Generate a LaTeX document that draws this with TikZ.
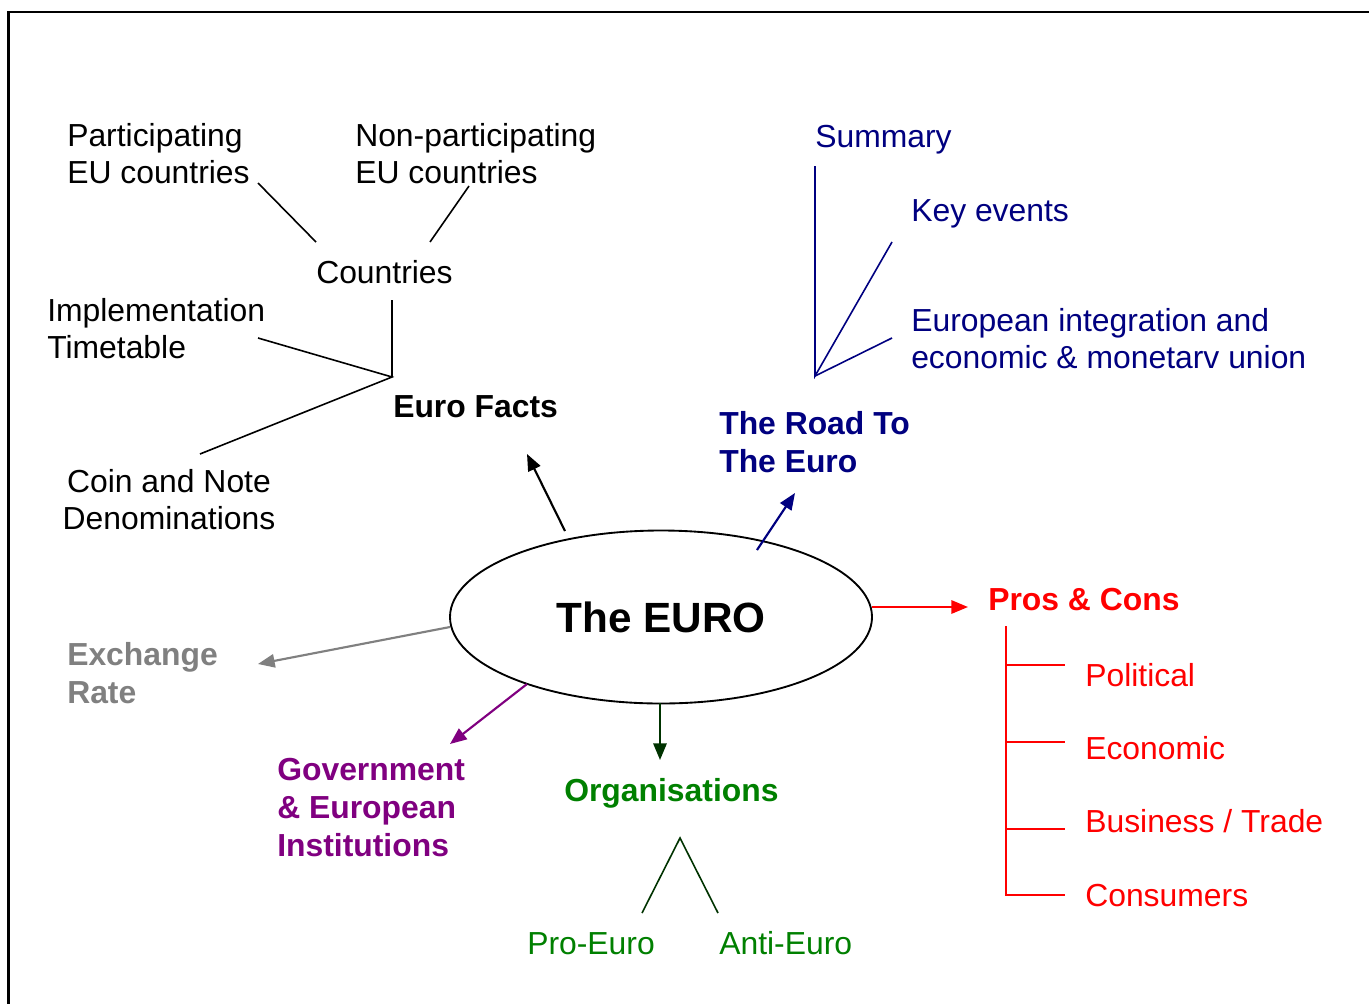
\documentclass[tikz,border=0pt]{standalone}
\usepackage{fontspec}
\setmainfont{Liberation Sans}
\usetikzlibrary{arrows.meta,shapes.geometric}
\definecolor{navyc}{RGB}{0,0,128}
\definecolor{purplec}{RGB}{128,0,128}
\definecolor{greenc}{RGB}{0,128,0}
\definecolor{dgreen}{RGB}{0,51,0}
\definecolor{grayc}{RGB}{128,128,128}
\definecolor{redc}{RGB}{255,0,0}
\begin{document}
\begin{tikzpicture}[x=0.75pt,y=-0.75pt,
  lbl/.style={inner sep=0pt, anchor=base west, align=left, font=\fontsize{23.9pt}{27.2pt}\selectfont},
  blbl/.style={lbl, font=\fontsize{23.9pt}{28.2pt}\selectfont\bfseries},
  thinln/.style={line width=1.2pt},
  arr/.style={line width=1.6pt, -{Triangle[length=12.5pt,width=10pt]}},
]
\useasboundingbox (0,0) rectangle (1369,1003);
\fill[white] (0,0) rectangle (1369,1003);
\draw[line width=1.9pt] (8.3,1010) -- (8.3,11.8) -- (1375,11.8);

% Euro facts branch (multi-line nodes: anchor at baseline of last line)
\node[lbl] (part) at (67,183) {Participating\\EU countries};
\node[lbl] (nonpart) at (355,183) {Non-participating\\EU countries};
\node[lbl] (countries) at (316,283) {Countries};
\node[lbl] (impl) at (47,358) {Implementation\\Timetable};
\node[blbl] (facts) at (393,417) {Euro Facts};
\node[lbl, anchor=base, align=center] (coin) at (169,529) {Coin and Note\\Denominations};

% Road branch
\node[lbl, text=navyc] (summary) at (815,147) {Summary};
\node[lbl, text=navyc] (key) at (911,221) {Key events};
\node[lbl, text=navyc] (integ) at (911,368) {European integration and\\economic \& monetarv union};
\node[blbl, text=navyc] (road) at (719,472) {The Road To\\The Euro};

% centre
\node[draw, ellipse, line width=1.4pt, minimum width=316.5pt, minimum height=129.75pt, inner sep=0pt,
  font=\fontsize{31.7pt}{36pt}\selectfont\bfseries] (euro) at (661,617) {The EURO};

% pros & cons
\node[blbl, text=redc] (pros) at (988,610) {Pros \& Cons};
\node[lbl, text=redc] (pol) at (1085,686) {Political};
\node[lbl, text=redc] (eco) at (1085,759) {Economic};
\node[lbl, text=redc] (bus) at (1085,832) {Business / Trade};
\node[lbl, text=redc] (cons) at (1085,906) {Consumers};

% others
\node[blbl, text=grayc] (exch) at (67,703) {Exchange\\Rate};
\node[blbl, text=purplec] (gov) at (277,856) {Government\\\& European\\Institutions};
\node[blbl, text=greenc] (org) at (564,801) {Organisations};
\node[lbl, text=greenc] (pro) at (527,954) {Pro-Euro};
\node[lbl, text=greenc] (anti) at (719,954) {Anti-Euro};

% coordinates
\coordinate (pe) at (258,183);
\coordinate (pc) at (316,242);
\coordinate (ne) at (469,186);
\coordinate (nc) at (430,242);
\coordinate (cb) at (392,300);
\coordinate (jf) at (392,377);
\coordinate (ie) at (258,338);
\coordinate (ce) at (200,454);
\coordinate (sv) at (815,166);
\coordinate (jr) at (815,376);
\coordinate (ke) at (892,242);
\coordinate (ie2) at (892,338);
\coordinate (fa0) at (565,531);
\coordinate (fa1) at (527,454);
\coordinate (ra0) at (757,550);
\coordinate (ra1) at (795,493);
\coordinate (pa0) at (872,607);
\coordinate (pa1) at (968,607);
\coordinate (ea0) at (450,627);
\coordinate (ea1) at (258,664);
\coordinate (ga0) at (527,684);
\coordinate (ga1) at (450,744);
\coordinate (oa0) at (660,703);
\coordinate (oa1) at (660,760);
\coordinate (oj) at (680,838);
\coordinate (pj) at (642,913);
\coordinate (aj) at (718,913);
\coordinate (rt) at (1006,626);
\coordinate (r1) at (1065,665);
\coordinate (r2) at (1065,742);
\coordinate (r3) at (1065,829);
\coordinate (r4) at (1065,895);

% connectors
\draw[thinln] (pe) -- (pc);
\draw[thinln] (ne) -- (nc);
\draw[thinln] (cb) -- (jf);
\draw[thinln] (ie) -- (jf) -- (ce);
\draw[thinln, navyc] (sv) -- (jr) -- (ke);
\draw[thinln, navyc] (jr) -- (ie2);
\draw[thinln, dgreen] (pj) -- (oj) -- (aj);
\draw[thinln, redc] (rt) |- (r4);
\draw[thinln, redc] (rt |- r1) -- (r1);
\draw[thinln, redc] (rt |- r2) -- (r2);
\draw[thinln, redc] (rt |- r3) -- (r3);

\draw[arr, black] (fa0) -- (fa1);
\draw[arr, navyc] (ra0) -- (ra1);
\draw[arr, redc] (pa0) -- (pa1);
\draw[arr, grayc] (ea0) -- (ea1);
\draw[arr, purplec] (ga0) -- (ga1);
\draw[arr, dgreen] (oa0) -- (oa1);
\end{tikzpicture}
\end{document}
